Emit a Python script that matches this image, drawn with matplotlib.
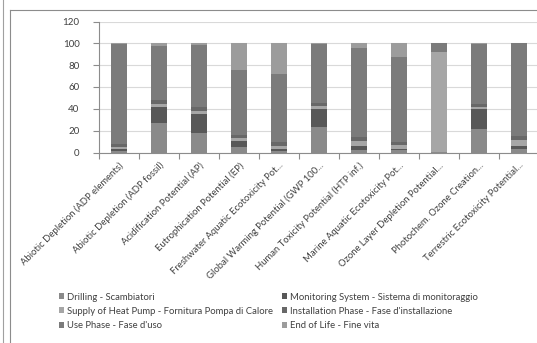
import matplotlib
matplotlib.use('Agg')
import matplotlib.pyplot as plt
from matplotlib.lines import Line2D
from matplotlib.patches import Patch
import numpy as np

plt.rcParams['font.family'] = ['Lato', 'DejaVu Sans']

categories = ['Abiotic Depletion (ADP elements)', 'Abiotic Depletion (ADP fossil)',
              'Acidification Potential (AP)', 'Eutrophication Potential (EP)',
              'Freshwater Aquatic Ecotoxicity Pot...', 'Global Warming Potential (GWP 100...',
              'Human Toxicity Potential (HTP inf.)', 'Marine Aquatic Ecotoxicity Pot...',
              'Ozone Layer Depletion Potential...', 'Photochem. Ozone Creation...',
              'Terrestric Ecotoxicity Potential...']

series = ['Drilling - Scambiatori', 'Monitoring System - Sistema di monitoraggio',
          'Supply of Heat Pump - Fornitura Pompa di Calore', "Installation Phase - Fase d'installazione",
          "Use Phase - Fase d'uso", 'End of Life - Fine vita']

drilling = [1.2, 27.0, 17.8, 4.6, 1.0, 23.4, 2.5, 2.0, 0.3, 21.5, 3.0]
monitoring = [1.9, 15.0, 17.9, 5.6, 2.0, 16.6, 3.7, 1.5, 0.6, 17.9, 3.2]
supply = [1.8, 2.5, 2.1, 3.0, 3.0, 2.5, 4.0, 3.5, 91.0, 2.1, 5.5]
installation = [2.8, 4.0, 3.7, 3.1, 3.5, 2.4, 3.6, 3.0, 0.3, 2.5, 3.1]
use_phase = [92.0, 49.5, 57.3, 59.1, 62.2, 54.1, 81.6, 77.7, 7.8, 55.4, 85.2]
end_of_life = [0.3, 2.0, 1.2, 24.6, 28.3, 1.0, 4.6, 12.3, 0.0, 0.6, 0.0]

colors = ['#8a8a8a', '#585858', '#a6a6a6', '#686868', '#7b7b7b', '#9c9c9c']

fig = plt.figure(figsize=(5.37, 3.43), dpi=100)
ax = fig.add_axes([99 / 537, (343 - 152.5) / 343, 440 / 537, 131 / 343])

x = np.arange(len(categories))
bottom = np.zeros(len(categories))
handles = []
for name, vals, c in zip(series, [drilling, monitoring, supply, installation, use_phase, end_of_life], colors):
    ax.bar(x, vals, width=0.4, bottom=bottom, color=c, zorder=3)
    bottom += np.array(vals)
    handles.append(Patch(facecolor=c, label=name))

ax.set_xlim(-0.5, len(categories) - 0.5)
ax.set_ylim(0, 120)
ax.set_yticks(range(0, 121, 20))
ax.yaxis.grid(True, color='#d9d9d9', linewidth=0.8, zorder=0)
for s in ['top', 'right']:
    ax.spines[s].set_visible(False)
for s in ['left', 'bottom']:
    ax.spines[s].set_color('#8c8c8c')
    ax.spines[s].set_linewidth(0.8)

ax.set_xticks(np.arange(-0.5, len(categories), 1))
ax.set_xticklabels([])
ax.set_xticks(x, minor=True)
ax.set_xticklabels(categories, minor=True, rotation=45, ha='right', va='top',
                   rotation_mode='anchor', fontsize=6.8, color='#404040')
ax.tick_params(axis='x', which='major', length=4, color='#8c8c8c', width=0.8)
ax.tick_params(axis='x', which='minor', length=0, pad=6)
ax.tick_params(axis='y', length=4, color='#8c8c8c', width=0.8, labelsize=7, labelcolor='#404040', pad=10)

order = [0, 2, 4, 1, 3, 5]
fig.legend([handles[i] for i in order], [series[i] for i in order], ncol=2,
           loc='upper left', bbox_to_anchor=(50 / 537, 1 - 284 / 343), frameon=False,
           fontsize=6.8, handlelength=0.6, handleheight=0.6, handletextpad=0.3,
           columnspacing=0.9, labelspacing=0.55, labelcolor='#404040')

# outer frame lines
fig.add_artist(Line2D([2.5 / 537, 2.5 / 537], [0, 1], color='#a0a0a0', linewidth=0.8))
fig.add_artist(Line2D([9.5 / 537, 9.5 / 537], [0, 1 - 10 / 343], color='#8c8c8c', linewidth=0.8))
fig.add_artist(Line2D([9.5 / 537, 1], [1 - 10 / 343, 1 - 10 / 343], color='#8c8c8c', linewidth=0.8))

fig.savefig('out.png', dpi=100)
